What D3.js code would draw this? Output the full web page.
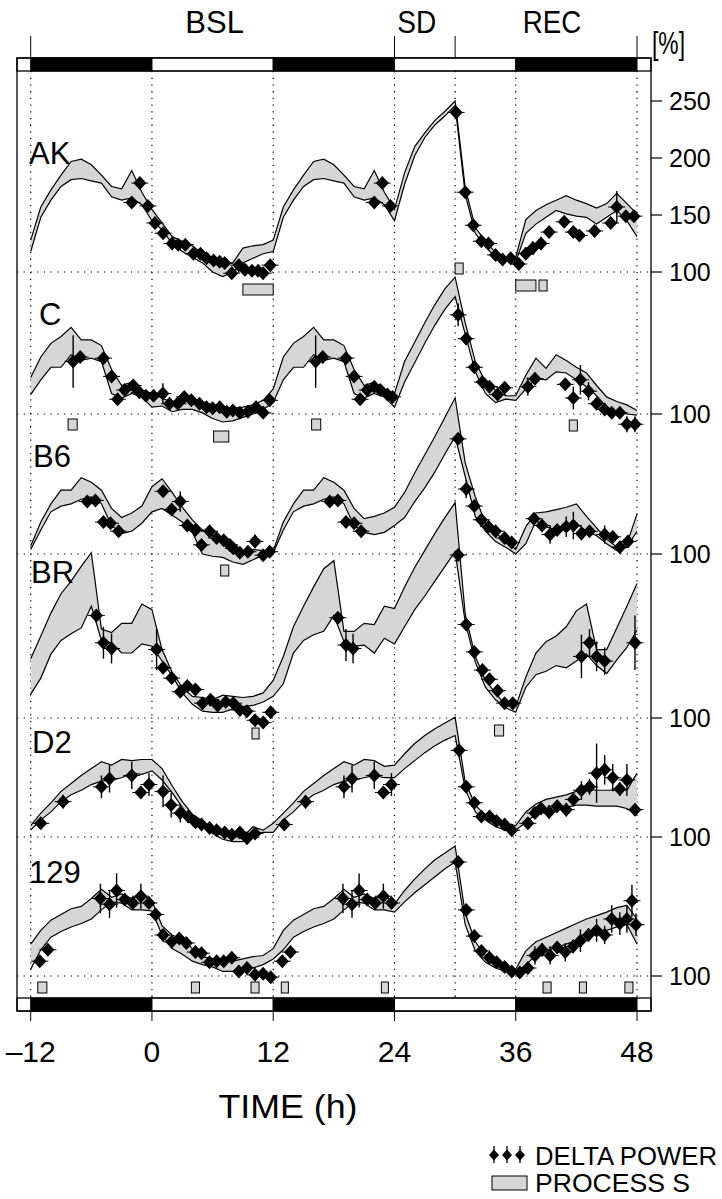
<!DOCTYPE html>
<html><head><meta charset="utf-8">
<script src="https://cdn.jsdelivr.net/npm/d3@7"></script>
<style>
body{margin:0;background:#fff}
svg text{font-family:"Liberation Sans",Arial,Helvetica,sans-serif;fill:#000}
</style>
</head><body>
<svg id="chart" width="722" height="1199"></svg>
<script>
// ---------- DATA ----------
const hours = d3.range(-12, 49); // -12 .. 48, hourly grid for process S
const xTicks = [-12, 0, 12, 24, 36, 48];
const xTickLabels = ["\u201312", "0", "12", "24", "36", "48"];
const gridHours = [-12, 0, 12, 24, 30, 36, 48];
const lightDark = [[-12, 0, "D"], [0, 12, "L"], [12, 24, "D"], [24, 36, "L"], [36, 48, "D"]];
const periodLabels = [["BSL", 6.2], ["SD", 26.2], ["REC", 39.6]];
const akTicks = [100, 150, 200, 250];

const AK_up = [128,157,172,185,197,199,194,185,175,173,189,170,155,
  143,131,127,123,116,110,106,108,121,123,124,128,
  157,172,185,197,199,194,185,175,173,189,170,155,
  187,210,222,233,241,250,
  174,139,127,117,113,113,146,154,159,163,167,163,160,156,160,169,160,151];
const AK_lo = [118,148,163,175,181,182,180,178,166,163,165,159,145,
  137,125,118,113,108,100,96,100,108,112,116,118,
  148,163,175,181,182,180,178,166,163,165,159,145,
  177,202,218,229,237,246,
  168,134,122,113,110,109,134,142,148,154,151,149,148,142,148,154,145,131];
const AK_pts = [[-2.0,161,3],[-1.2,178,3],[-0.4,158,3],
  [0.3,143,3],[1.1,134,3],[2.0,125,3],[2.6,124,2],[3.3,124,2],[4.1,116,2],[4.8,116,2],[5.4,112,2],[6.1,110,2],[6.7,109,2],[7.2,108,2],[7.9,99,2],[8.6,106,2],[9.2,102,2],[9.9,101,2],[10.5,101,2],[11.0,99,2],[11.7,106,2],
  [22.0,161,3],[22.8,178,3],[23.6,158,3],
  [30.1,240,4],[31.0,170,3],[31.8,141,3],[32.6,127,3],[33.3,125,3],[34.0,115,3],[34.7,111,3],[35.5,112,3],[36.3,107,3],[37.0,116,5],[37.7,121,6],[38.5,125,6],[39.3,135,4],[40.8,144,3],[41.7,135,3],[42.3,132,3],[43.8,136,3],[45.4,143,3],[46.0,157,14],[46.9,149,5],[47.7,149,5]];
const AK_sig = [[9.0,12.0],[30.0,30.8],[36.0,38.0],[38.3,39.1]];

const C_up = [132,150,162,168,176,165,165,160,139,125,128,121,118,
  114,110,118,113,111,108,106,105,106,108,112,122,
  150,162,168,176,165,165,160,139,125,128,121,118,
  146,163,180,196,210,220,
  180,146,128,121,116,116,134,149,140,152,147,141,136,125,115,111,108,103];
const C_lo = [117,130,141,141,152,147,149,146,118,114,118,115,106,
  107,102,104,104,101,96,93,94,97,100,104,110,
  130,141,141,152,147,149,146,118,114,118,115,106,
  128,145,162,178,192,203,
  170,137,118,110,113,112,122,131,130,137,136,130,124,116,106,102,100,99];
const C_pts = [[-7.8,146,23],[-7.1,150,4],[-4.8,149,3],[-4.0,133,3],[-3.4,113,3],[-2.7,121,3],[-1.85,125,3],[-1.25,119,3],[-0.6,116,3],
  [0.16,116,3],[1.08,118,9],[1.74,109,3],[2.56,109,3],[3.2,115,3],[3.9,112,2],[4.7,109,2],[5.4,106,2],[6.0,105,2],[6.7,106,2],[7.4,102,2],[8.0,103,2],[8.7,101,2],[9.5,102,2],[10.3,106,3],[11.0,101,2],[11.65,112,3],
  [16.2,146,23],[16.9,150,4],[19.2,149,3],[20.0,133,3],[20.6,113,3],[21.3,121,3],[22.0,124,3],[22.6,121,3],[23.3,117,3],[23.8,115,3],
  [30.3,187,10],[31.1,166,3],[31.9,141,3],[32.7,128,3],[33.4,124,3],[34.2,117,3],[34.9,123,3],[37.2,124,8],[37.9,131,4],[40.9,126,5],[41.7,114,10],[42.4,130,13],[43.2,120,8],[44.0,109,4],[44.8,104,4],[45.5,101,4],[46.3,101,5],[47.0,91,7],[47.8,91,7]];
const C_sig = [[-8.3,-7.4],[6.1,7.6],[15.8,16.7],[41.3,42.1]];

const B6_up = [107,128,144,156,156,167,163,156,140,132,136,142,159,
  166,154,141,130,121,116,111,105,103,104,103,103,
  128,144,156,156,167,163,156,140,131,133,136,141,
  154,171,187,203,220,237,
  180,150,127,118,112,104,124,136,137,139,141,144,133,123,113,106,109,135];
const B6_lo = [104,121,137,142,144,148,150,144,125,118,120,127,137,
  140,134,128,119,100,98,97,93,91,95,99,101,
  121,137,142,144,148,150,144,125,119,117,119,125,
  132,146,158,172,188,203,
  168,133,120,111,106,100,109,129,124,121,121,127,120,116,109,103,106,120];
const B6_pts = [[-6.4,146,3],[-5.6,147,3],[-4.8,128,3],[-4.1,127,3],[-3.3,120,3],
  [1.1,155,3],[1.95,139,3],[2.8,146,9],[3.5,125,3],[4.3,121,3],[4.9,108,3],[5.7,120,3],[6.4,114,3],[7.1,112,3],[7.7,108,3],[8.05,105,3],[8.7,101,3],[9.5,102,3],[10.2,111,6],[11.0,99,3],[11.65,102,3],
  [17.6,146,3],[18.4,147,3],[19.2,128,3],[20.0,127,3],[20.7,120,3],
  [30.3,201,4],[31.1,157,8],[31.9,142,5],[32.6,130,4],[33.3,124,4],[34.0,120,3],[34.9,114,3],[35.6,110,3],[37.8,131,4],[38.6,125,4],[39.4,117,8],[40.1,121,4],[41.0,124,9],[41.7,125,12],[42.5,118,6],[43.3,120,4],[44.8,117,8],[45.6,115,5],[46.3,106,4],[47.1,111,5]];
const B6_sig = [[6.8,7.6]];

const BR_up = [152,172,192,209,220,233,245,178,175,183,183,200,195,
  160,140,127,119,118,116,120,119,118,119,122,133,
  154,180,198,215,231,238,176,176,183,182,198,196,
  215,232,247,262,276,289,
  191,154,133,122,111,110,136,157,167,172,180,194,200,160,160,179,198,218];
const BR_lo = [121,135,156,168,174,179,198,168,166,157,157,165,163,
  150,137,122,112,106,105,105,108,110,111,114,119,
  130,157,168,173,176,190,167,163,164,157,170,165,
  180,195,207,220,233,246,
  184,149,127,116,109,105,127,138,141,146,144,150,156,146,139,151,162,177];
const BR_pts = [[-5.5,190,5],[-4.8,166,14],[-4.0,161,13],
  [0.46,160,18],[1.1,144,3],[1.95,135,3],[2.8,123,3],[3.5,128,3],[4.3,125,3],[5.0,113,3],[5.8,116,3],[6.5,111,3],[7.3,114,3],[8.05,113,3],[8.7,107,3],[9.4,106,3],[10.2,98,3],[11.0,96,3],[11.75,105,3],
  [18.4,188,5],[19.2,164,14],[19.9,161,13],
  [30.3,243,5],[31.1,182,4],[31.9,158,4],[32.7,142,4],[33.4,134,4],[34.2,124,3],[34.9,113,3],[35.7,113,3],[42.5,154,19],[43.3,166,12],[44.0,154,13],[44.8,150,12],[47.8,166,24]];
const BR_sig = [[9.9,10.6],[33.9,34.8]];

const D2_up = [110,121,130,140,147,154,160,166,163,168,167,168,168,
  160,145,131,120,114,106,101,100,100,109,106,112,
  121,130,140,147,154,160,166,163,168,167,162,163,
  173,182,189,195,200,205,
  148,128,119,114,111,110,122,129,133,135,137,140,142,141,141,141,141,156];
const D2_lo = [106,115,122,131,137,141,146,149,150,152,156,155,158,
  150,139,126,114,110,103,98,96,96,103,104,104,
  115,122,131,137,141,146,149,150,152,154,152,152,
  160,167,174,180,185,189,
  142,122,115,109,106,106,113,120,123,124,126,128,128,127,127,127,125,120];
const D2_pts = [[-11.0,112,3],[-8.8,131,6],[-5.0,144,10],[-4.2,151,12],[-2.0,154,12],[-1.1,139,4],[-0.3,146,10],
  [1.1,140,14],[1.9,128,11],[2.8,121,8],[3.6,118,3],[4.3,113,3],[4.9,111,3],[5.7,108,3],[6.4,106,3],[7.2,104,3],[7.9,102,3],[8.7,104,3],[9.4,99,3],[10.2,103,3],
  [13.1,111,3],[15.2,131,6],[19.0,144,10],[19.8,151,12],[22.0,154,12],[22.9,139,4],[23.7,146,10],
  [30.4,176,4],[31.1,144,4],[31.9,130,4],[32.6,118,4],[33.4,118,4],[34.1,114,3],[34.9,111,3],[35.6,106,3],[37.2,112,4],[37.9,121,4],[38.5,125,5],[39.3,122,6],[40.1,127,5],[41.0,124,6],[41.7,133,6],[42.5,141,8],[43.3,144,7],[44.0,156,26],[44.8,159,13],[45.6,152,12],[46.3,142,6],[47.0,150,14],[47.8,124,4]];
const D2_sig = [];

const M129_up = [128,140,149,154,159,161,168,176,169,172,168,171,166,
  144,136,132,124,117,115,112,113,115,117,118,124,
  140,149,154,159,161,168,176,169,172,168,171,163,
  175,185,194,202,208,214,
  155,130,118,112,108,106,122,130,134,138,142,146,150,153,156,160,162,150];
const M129_lo = [106,123,134,139,143,146,150,158,165,164,158,158,157,
  136,124,119,113,110,108,104,104,106,107,110,115,
  123,134,139,143,146,150,158,165,164,158,158,156,
  165,173,180,187,194,200,
  145,122,112,107,104,102,110,118,122,125,128,131,134,137,140,143,145,128];
const M129_pts = [[-11.1,113,3],[-10.3,123,3],[-5.1,168,13],[-4.2,163,12],[-3.5,175,15],[-2.7,167,4],[-1.9,164,4],[-1.1,170,11],[-0.3,164,4],
  [0.36,154,3],[1.1,136,3],[1.95,130,3],[2.7,133,3],[3.4,129,3],[4.3,121,3],[4.9,120,3],[5.7,112,3],[6.4,113,3],[7.1,113,3],[7.9,116,3],[8.6,104,3],[9.4,107,3],[10.2,101,3],[11.0,102,3],[11.75,99,3],
  [12.9,113,3],[13.7,121,3],[18.9,168,13],[19.8,163,12],[20.5,175,15],[21.3,167,4],[22.1,164,4],[22.9,170,11],[23.7,164,4],
  [30.3,200,4],[31.1,158,4],[31.9,135,4],[32.6,122,4],[33.4,116,3],[34.1,112,3],[34.9,108,3],[35.6,104,3],[36.4,103,3],[37.2,107,3],[37.9,118,8],[38.6,123,6],[39.4,118,8],[40.1,125,5],[40.9,121,8],[41.7,126,6],[42.4,131,10],[43.2,136,6],[44.0,140,10],[44.8,136,8],[45.5,150,12],[46.3,146,10],[47.0,150,12],[47.5,166,14],[47.9,145,10]];
const M129_sig = [[-11.3,-10.4],[3.9,4.7],[9.8,10.6],[12.8,13.5],[22.7,23.4],[38.7,39.5],[42.3,43.0],[46.8,47.6]];

// ---------- LAYOUT ----------
const panels = [
  {name:"AK",  up:AK_up,  lo:AK_lo,  pts:AK_pts,  sig:AK_sig,  base:272, lx:29, ly:164, ticks:akTicks, sigDy:[12,-9,8,8]},
  {name:"C",   up:C_up,   lo:C_lo,   pts:C_pts,   sig:C_sig,   base:414, lx:39, ly:325, ticks:[100], sigDy:[5,17,5,6]},
  {name:"B6",  up:B6_up,  lo:B6_lo,  pts:B6_pts,  sig:B6_sig,  base:554, lx:33, ly:467, ticks:[100], sigDy:[11]},
  {name:"BR",  up:BR_up,  lo:BR_lo,  pts:BR_pts,  sig:BR_sig,  base:718, lx:31, ly:583, ticks:[100], sigDy:[10,7]},
  {name:"D2",  up:D2_up,  lo:D2_lo,  pts:D2_pts,  sig:D2_sig,  base:837, lx:32, ly:753, ticks:[100], sigDy:[]},
  {name:"129", up:M129_up,lo:M129_lo,pts:M129_pts,sig:M129_sig,base:976, lx:29, ly:883, ticks:[100], sigDy:[6,6,6,6,6,6,6,6]}
];
const frameL = 17, frameR = 651, frameT = 58, frameB = 1011, barH = 13;
const pxPerPct = 1.14;
const GRAY = "#d6d6d6";

const svg = d3.select("#chart");
const x = d3.scaleLinear().domain([-12, 48]).range([30.7, 637]);

// frame
svg.append("rect").attr("x", frameL).attr("y", frameT).attr("width", frameR - frameL).attr("height", frameB - frameT)
  .attr("fill", "none").attr("stroke", "#000").attr("stroke-width", 1.3);

// dotted vertical grid
const grid = svg.append("g");
grid.selectAll("line.v").data(gridHours).join("line")
  .attr("x1", d => x(d)).attr("x2", d => x(d)).attr("y1", frameT + barH).attr("y2", frameB - barH)
  .attr("stroke", "#000").attr("stroke-width", 1.2).attr("stroke-dasharray", "1.3,5.4");
// dotted baselines
grid.selectAll("line.h").data(panels).join("line")
  .attr("x1", frameL).attr("x2", frameR).attr("y1", d => d.base).attr("y2", d => d.base)
  .attr("stroke", "#000").attr("stroke-width", 1.2).attr("stroke-dasharray", "1.3,5.4");

// light/dark bars top and bottom
[frameT, frameB - barH].forEach(y0 => {
  const g = svg.append("g");
  g.selectAll("rect").data(lightDark).join("rect")
    .attr("x", d => x(d[0])).attr("width", d => x(d[1]) - x(d[0]))
    .attr("y", y0).attr("height", barH)
    .attr("fill", d => d[2] === "D" ? "#000" : "#fff").attr("stroke", "#000").attr("stroke-width", 1);
  g.append("rect").attr("x", frameL).attr("y", y0).attr("width", frameR - frameL).attr("height", barH)
    .attr("fill", "none").attr("stroke", "#000").attr("stroke-width", 1.3);
});

// top ticks
svg.append("g").selectAll("line").data([-12, 24, 30, 48]).join("line")
  .attr("x1", d => x(d)).attr("x2", d => x(d)).attr("y1", 36).attr("y2", frameT)
  .attr("stroke", "#000").attr("stroke-width", 1);
// period labels
svg.append("g").selectAll("text").data(periodLabels).join("text")
  .attr("x", d => x(d[1])).attr("y", 33).attr("text-anchor", "middle")
  .attr("font-size", 31).text(d => d[0])
  .attr("textLength", d => d[0].length * 19.5).attr("lengthAdjust", "spacingAndGlyphs");
svg.append("text").attr("x", 652).attr("y", 54).attr("font-size", 31).text("[%]")
  .attr("textLength", 33).attr("lengthAdjust", "spacingAndGlyphs");

// bottom ticks + labels
const bx = svg.append("g");
bx.selectAll("line").data(xTicks).join("line")
  .attr("x1", d => x(d)).attr("x2", d => x(d)).attr("y1", frameB).attr("y2", frameB + 10)
  .attr("stroke", "#000").attr("stroke-width", 1);
bx.selectAll("text").data(xTicks).join("text")
  .attr("x", d => x(d)).attr("y", 1062).attr("text-anchor", "middle").attr("font-size", 30)
  .text((d, i) => xTickLabels[i]);
svg.append("text").attr("x", 288).attr("y", 1118).attr("text-anchor", "middle").attr("font-size", 34)
  .text("TIME (h)").attr("textLength", 139).attr("lengthAdjust", "spacingAndGlyphs");

// panels
const diamond = "M0,-7L6.5,0L0,7L-6.5,0Z";
panels.forEach(p => {
  const y = d3.scaleLinear().domain([100, 250]).range([p.base, p.base - 150 * pxPerPct]);
  const g = svg.append("g");
  const rows = hours.map((h, i) => ({h, up: p.up[i], lo: p.lo[i]}));
  g.append("path").datum(rows)
    .attr("d", d3.area().x(d => x(d.h)).y0(d => y(d.lo)).y1(d => y(d.up)))
    .attr("fill", GRAY).attr("stroke", "none");
  g.append("path").datum(rows).attr("d", d3.line().x(d => x(d.h)).y(d => y(d.up)))
    .attr("fill", "none").attr("stroke", "#000").attr("stroke-width", 1.2);
  g.append("path").datum(rows).attr("d", d3.line().x(d => x(d.h)).y(d => y(d.lo)))
    .attr("fill", "none").attr("stroke", "#000").attr("stroke-width", 1.2);

  // significance boxes
  g.selectAll("rect.sig").data(p.sig).join("rect")
    .attr("x", d => x(d[0])).attr("width", d => x(d[1]) - x(d[0]))
    .attr("y", (d, i) => p.base + p.sigDy[i]).attr("height", 11)
    .attr("fill", GRAY).attr("stroke", "#000").attr("stroke-width", 1);

  // delta power points
  const pg = g.append("g");
  pg.selectAll("line.e").data(p.pts).join("line")
    .attr("x1", d => x(d[0])).attr("x2", d => x(d[0]))
    .attr("y1", d => y(d[1] + d[2])).attr("y2", d => y(d[1] - d[2]))
    .attr("stroke", "#000").attr("stroke-width", 1.4);
  pg.selectAll("line.hz").data(p.pts).join("line")
    .attr("x1", d => x(d[0]) - 8.5).attr("x2", d => x(d[0]) + 8.5)
    .attr("y1", d => y(d[1])).attr("y2", d => y(d[1]))
    .attr("stroke", "#000").attr("stroke-width", 1);
  pg.selectAll("path").data(p.pts).join("path")
    .attr("d", diamond).attr("transform", d => `translate(${x(d[0])},${y(d[1])})`)
    .attr("fill", "#000");

  // label
  svg.append("text").attr("x", p.lx).attr("y", p.ly).attr("font-size", 31).text(p.name);

  // right axis ticks
  const ag = svg.append("g");
  ag.selectAll("line").data(p.ticks).join("line")
    .attr("x1", frameR).attr("x2", frameR + 11).attr("y1", d => y(d)).attr("y2", d => y(d))
    .attr("stroke", "#000").attr("stroke-width", 1.2);
  ag.selectAll("text").data(p.ticks).join("text")
    .attr("x", 669).attr("y", d => y(d) + 9).attr("font-size", 25).text(d => d);
});

// legend
const lg = svg.append("g");
const legX = [494, 507, 520];
lg.selectAll("line").data(legX).join("line")
  .attr("x1", d => d).attr("x2", d => d).attr("y1", 1146).attr("y2", 1163)
  .attr("stroke", "#000").attr("stroke-width", 1.3);
lg.selectAll("path").data(legX).join("path")
  .attr("d", "M0,-5.5L5,0L0,5.5L-5,0Z").attr("transform", d => `translate(${d},1155)`).attr("fill", "#000");
lg.append("rect").attr("x", 492).attr("y", 1176).attr("width", 35).attr("height", 14)
  .attr("fill", GRAY).attr("stroke", "#000").attr("stroke-width", 1);
lg.append("text").attr("x", 535).attr("y", 1165).attr("font-size", 26).text("DELTA POWER")
  .attr("textLength", 182).attr("lengthAdjust", "spacingAndGlyphs");
lg.append("text").attr("x", 535).attr("y", 1192).attr("font-size", 26).text("PROCESS S")
  .attr("textLength", 155).attr("lengthAdjust", "spacingAndGlyphs");
</script>
</body></html>
